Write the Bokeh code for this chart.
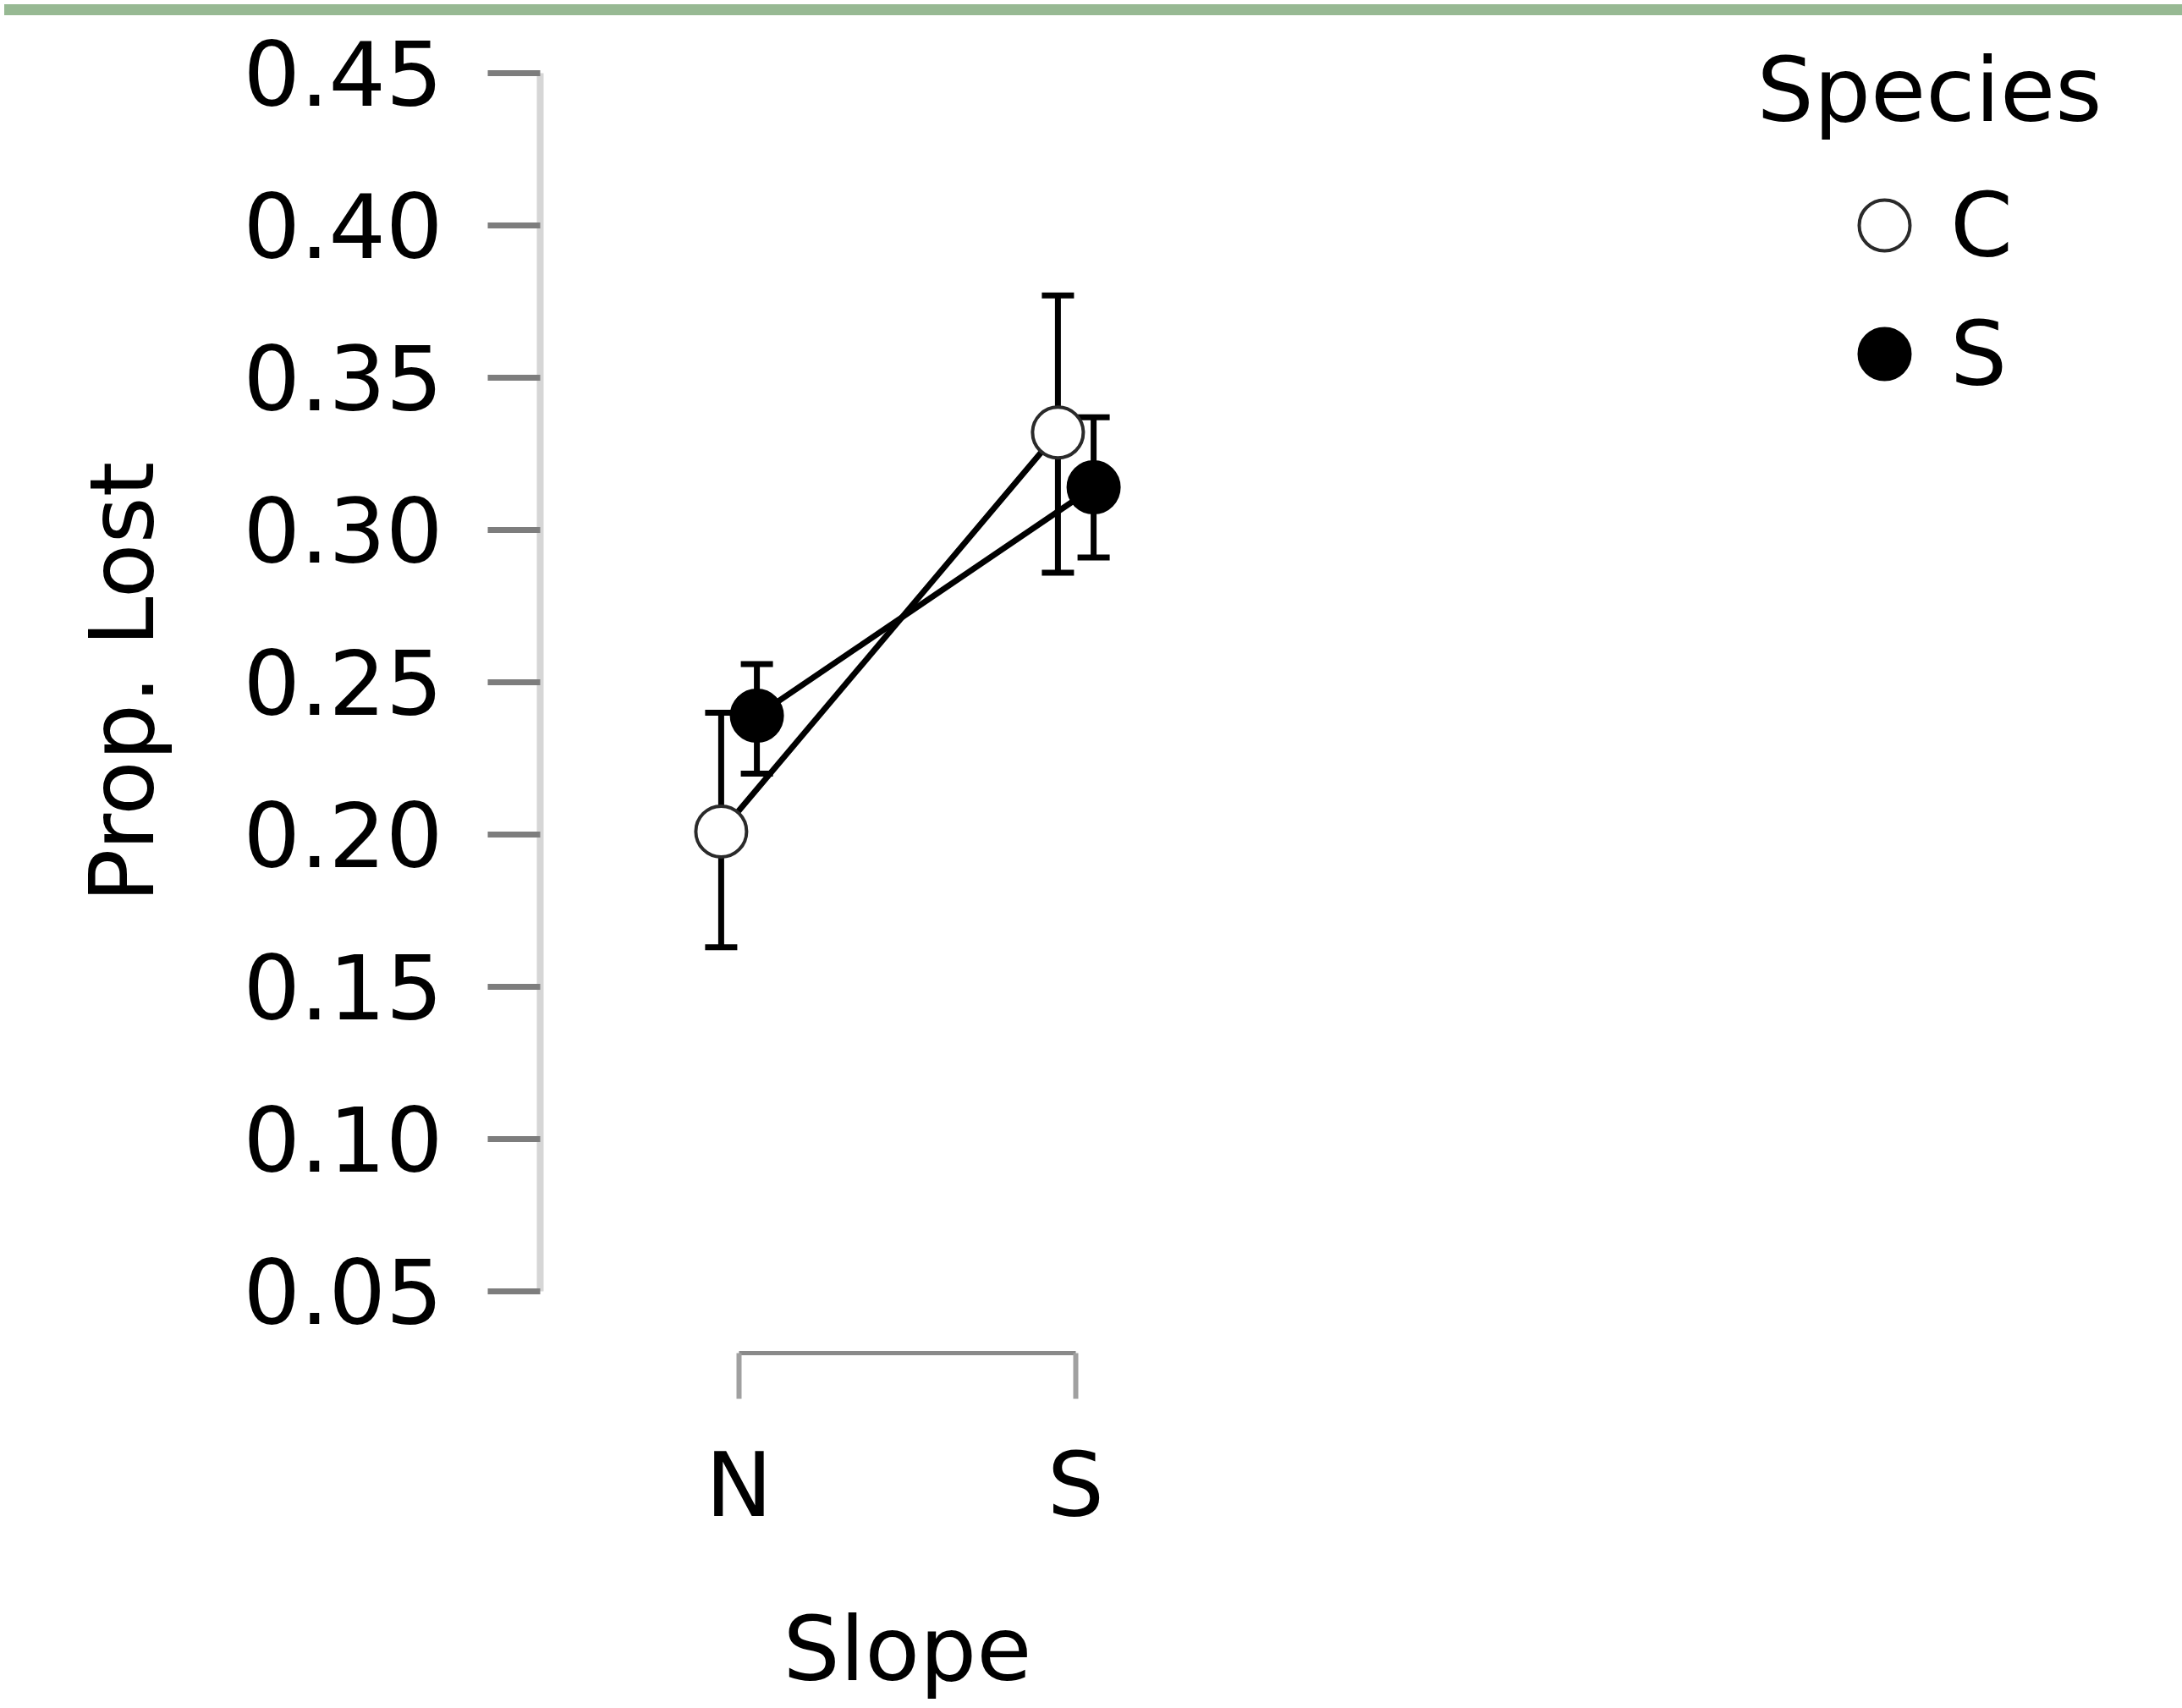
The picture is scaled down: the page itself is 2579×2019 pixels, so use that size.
from bokeh.plotting import figure
from bokeh.models import (Range1d, LinearAxis, FixedTicker, ColumnDataSource, Whisker,
                          TeeHead, Legend, LegendItem, Label, Div)
from bokeh.layouts import column
from bokeh.embed import file_html
from bokeh.resources import INLINE

# ---- data ----
slopes = ["N", "S"]
species = ["C", "S"]
c_mean = [0.201, 0.332]
c_upper = [0.240, 0.377]
c_lower = [0.163, 0.286]
s_mean = [0.239, 0.314]
s_upper = [0.256, 0.337]
s_lower = [0.220, 0.291]
y_ticks = [0.05, 0.10, 0.15, 0.20, 0.25, 0.30, 0.35, 0.40, 0.45]

FONT = "DejaVu Sans"
FS = "106px"      # avoid sizes like "100px" (read as a font weight by the SVG backend)
dodge = 0.053

xpos = list(range(len(slopes)))
src_c = ColumnDataSource(dict(x=[i - dodge for i in xpos], y=c_mean, lo=c_lower, hi=c_upper))
src_s = ColumnDataSource(dict(x=[i + dodge for i in xpos], y=s_mean, lo=s_lower, hi=s_upper))

p = figure(width=2579, height=2019,
           x_range=Range1d(-0.590452, 4.231156),
           y_range=Range1d(0.029722, 0.470278),
           x_axis_type=None, y_axis_type=None,
           output_backend="svg", toolbar_location=None,
           min_border_left=638, min_border_right=22,
           min_border_top=13, min_border_bottom=420)
p.outline_line_color = None
p.background_fill_color = "white"
p.border_fill_color = "white"

# y axis
yax = LinearAxis(ticker=FixedTicker(ticks=y_ticks), bounds=(0.05, 0.45),
                 axis_label="Prop. Lost")
yax.major_label_overrides = {t: f"{t:.2f}" for t in y_ticks}
yax.axis_line_color = "#d6d6d6"
yax.axis_line_width = 8
yax.major_tick_line_color = "#7d7d7d"
yax.major_tick_line_width = 7
yax.major_tick_out = 62
yax.major_tick_in = 0
yax.minor_tick_line_color = None
yax.major_label_standoff = 53
yax.major_label_text_font = FONT
yax.major_label_text_font_size = FS
yax.major_label_text_color = "black"
yax.axis_label_text_font = FONT
yax.axis_label_text_font_size = FS
yax.axis_label_text_font_style = "normal"
yax.axis_label_text_color = "black"
yax.axis_label_standoff = 78
p.add_layout(yax, "left")

# x axis (categories)
xax = LinearAxis(ticker=FixedTicker(ticks=xpos), bounds=(0, 1))
xax.major_label_overrides = {i: s for i, s in zip(xpos, slopes)}
xax.axis_line_color = "#8a8a8a"
xax.axis_line_width = 5
xax.major_tick_line_color = "#a0a0a0"
xax.major_tick_line_width = 6
xax.major_tick_out = 54
xax.major_tick_in = 0
xax.minor_tick_line_color = None
xax.major_label_standoff = 40
xax.major_label_text_font = FONT
xax.major_label_text_font_size = FS
xax.major_label_text_color = "black"
p.add_layout(xax, "below")

# x axis title, centred on the span of the categories
mid = (xpos[0] + xpos[-1]) / 2
xt = LinearAxis(ticker=FixedTicker(ticks=[mid]))
xt.major_label_overrides = {mid: "Slope"}
xt.axis_line_color = None
xt.major_tick_line_color = None
xt.minor_tick_line_color = None
xt.major_tick_out = 0
xt.major_tick_in = 0
xt.major_label_standoff = 68
xt.major_label_text_font = FONT
xt.major_label_text_font_size = FS
xt.major_label_text_color = "black"
p.add_layout(xt, "below")

# error bars
for src in (src_c, src_s):
    w = Whisker(source=src, base="x", lower="lo", upper="hi", dimension="height",
                line_color="black", line_width=7,
                upper_head=TeeHead(size=38, line_width=7, line_color="black"),
                lower_head=TeeHead(size=38, line_width=7, line_color="black"))
    p.add_layout(w)

# connecting lines
p.line("x", "y", source=src_c, line_color="black", line_width=7)
p.line("x", "y", source=src_s, line_color="black", line_width=7)

# markers
rc = p.scatter("x", "y", source=src_c, size=60, marker="circle",
               fill_color="white", line_color="#2a2a2a", line_width=4)
rs = p.scatter("x", "y", source=src_s, size=60, marker="circle",
               fill_color="black", line_color="black", line_width=4)

legend = Legend(items=[LegendItem(label=species[0], renderers=[rc]),
                       LegendItem(label=species[1], renderers=[rs])],
                location="top_right", margin=178, padding=0,
                glyph_width=150, glyph_height=150, label_standoff=3, spacing=2,
                label_text_font=FONT, label_text_font_size=FS,
                label_text_color="black",
                border_line_alpha=0, background_fill_alpha=0)
p.add_layout(legend)

title = Label(x=1438, y=1493, x_units="screen", y_units="screen", text="Species",
              text_font=FONT, text_font_size=FS, text_color="black",
              text_baseline="middle", text_align="left")
p.add_layout(title)

band = Div(width=2579, height=13,
           styles={"background-color": "#97b993", "position": "fixed",
                   "top": "0px", "left": "0px", "z-index": "100"})
layout = column(p, band, spacing=0)

open("out.html", "w").write(file_html(layout, INLINE))
